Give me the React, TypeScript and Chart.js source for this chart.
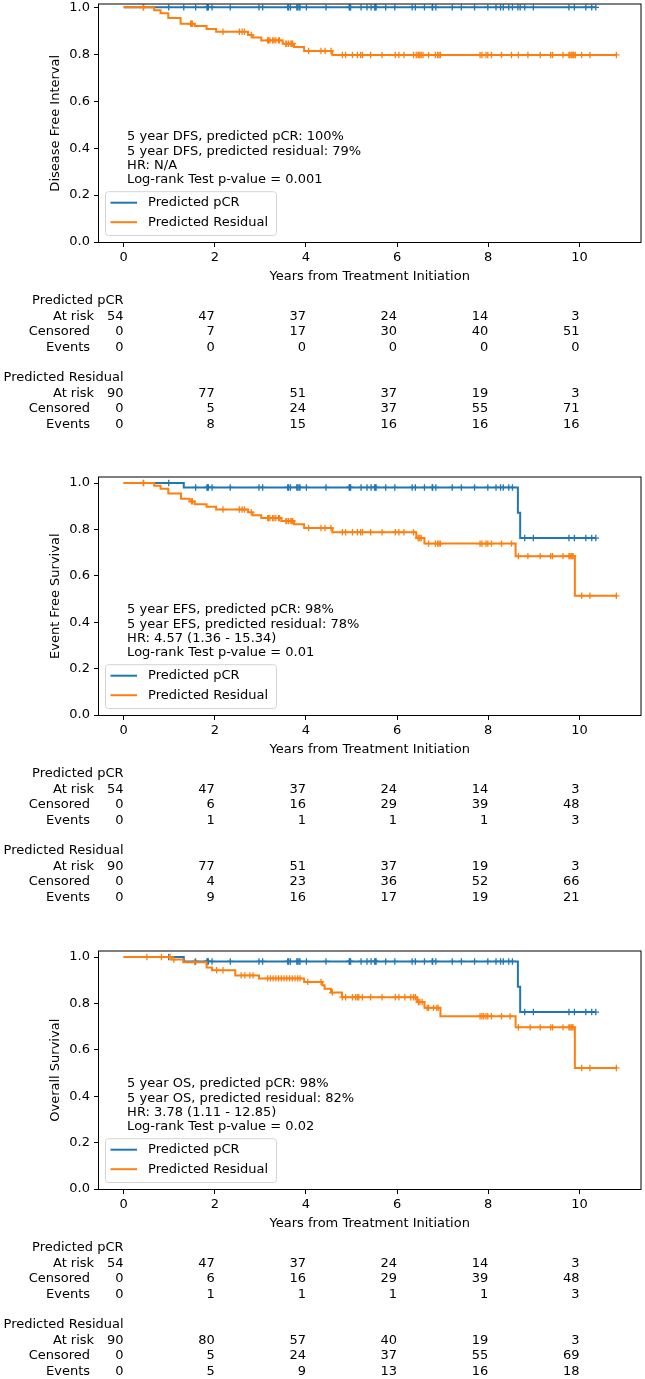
import React, { useEffect, useRef } from "react";
import { Chart, registerables } from "chart.js";

Chart.register(...registerables);

const FONT_FAMILY = "'DejaVu Sans', 'Noto Sans', sans-serif";
const FONT_SIZE = 13;
const BLUE = "#1f77b4";
const ORANGE = "#ff7f0e";

const xTickValues = [0, 2, 4, 6, 8, 10];
const yTickValues = [0, 0.2, 0.4, 0.6, 0.8, 1.0];
const xAxisTitle = "Years from Treatment Initiation";
const groupNames = ["Predicted pCR", "Predicted Residual"];
const rowLabels = ["At risk", "Censored", "Events"];

// ---------- Panel 1: Disease Free Interval ----------
const dfsPcrEventTimes: number[] = [];
const dfsPcrEventSurv: number[] = [];
const dfsPcrCensor = [0.99, 1.32, 1.58, 1.83, 1.84, 1.86, 1.94, 2.34, 2.97, 3.05, 3.6, 3.62, 3.66, 3.8, 3.82, 3.85, 3.87, 4.01, 4.44, 4.95, 4.96, 4.98, 5.21, 5.34, 5.43, 5.51, 5.52, 5.54, 5.75, 5.95, 6.33, 6.4, 6.6, 6.77, 6.78, 6.85, 7.21, 7.41, 7.7, 7.99, 8.17, 8.27, 8.33, 8.45, 8.53, 8.65, 8.7, 8.8, 8.99, 9.77, 9.89, 10.14, 10.27, 10.36];
const dfsResEventTimes = [0.67, 0.81, 0.98, 1.25, 1.56, 1.82, 2.03, 2.73, 2.83, 3.02, 3.49, 3.74, 3.96, 4.58];
const dfsResEventSurv = [0.988, 0.975, 0.955, 0.93, 0.92, 0.908, 0.896, 0.882, 0.871, 0.859, 0.845, 0.831, 0.814, 0.797];
const dfsResCensor = [0.43, 0.44, 1.47, 1.49, 1.51, 2.18, 2.54, 2.6, 2.65, 2.8, 3.16, 3.18, 3.21, 3.27, 3.3, 3.34, 3.4, 3.42, 3.56, 3.58, 3.62, 3.67, 3.69, 3.71, 4.06, 4.33, 4.42, 4.55, 4.8, 4.87, 5.02, 5.13, 5.2, 5.24, 5.42, 5.67, 5.96, 6.04, 6.15, 6.36, 6.42, 6.46, 6.48, 6.5, 6.53, 6.57, 6.69, 6.84, 6.89, 6.92, 6.95, 7.82, 7.86, 7.95, 7.99, 8.07, 8.29, 8.51, 8.66, 8.87, 9.14, 9.37, 9.41, 9.64, 9.77, 9.79, 9.82, 9.84, 9.86, 9.88, 9.91, 10.05, 10.23, 10.81];
const dfsPcrAtRisk = [54, 47, 37, 24, 14, 3];
const dfsPcrCensored = [0, 7, 17, 30, 40, 51];
const dfsPcrEvents = [0, 0, 0, 0, 0, 0];
const dfsResAtRisk = [90, 77, 51, 37, 19, 3];
const dfsResCensored = [0, 5, 24, 37, 55, 71];
const dfsResEvents = [0, 8, 15, 16, 16, 16];
const dfsNotes = ["5 year DFS, predicted pCR: 100%", "5 year DFS, predicted residual: 79%", "HR: N/A", "Log-rank Test p-value = 0.001"];

// ---------- Panel 2: Event Free Survival ----------
const efsPcrEventTimes = [1.32, 8.65, 8.7];
const efsPcrEventSurv = [0.981, 0.872, 0.763];
const efsPcrCensor = [0.99, 1.58, 1.83, 1.84, 1.86, 1.94, 2.34, 2.97, 3.05, 3.6, 3.62, 3.66, 3.8, 3.82, 3.85, 3.87, 4.01, 4.44, 4.95, 4.96, 4.98, 5.21, 5.34, 5.43, 5.51, 5.52, 5.54, 5.75, 5.95, 6.33, 6.4, 6.6, 6.77, 6.78, 6.85, 7.21, 7.41, 7.7, 7.99, 8.17, 8.27, 8.33, 8.45, 8.53, 8.8, 8.99, 9.77, 9.89, 10.14, 10.27, 10.36];
const efsResEventTimes = [0.67, 0.81, 0.98, 1.26, 1.45, 1.56, 1.82, 2.03, 2.73, 2.83, 3.02, 3.46, 3.74, 3.96, 4.58, 6.42, 6.6, 8.6, 9.9];
const efsResEventSurv = [0.988, 0.975, 0.955, 0.932, 0.921, 0.909, 0.898, 0.886, 0.874, 0.861, 0.849, 0.836, 0.822, 0.806, 0.788, 0.763, 0.739, 0.685, 0.514];
const efsResCensor = [0.43, 0.44, 1.49, 1.51, 2.18, 2.54, 2.6, 2.65, 2.8, 3.16, 3.18, 3.21, 3.27, 3.3, 3.34, 3.4, 3.42, 3.56, 3.58, 3.62, 3.67, 3.69, 3.71, 4.06, 4.33, 4.42, 4.55, 4.8, 4.87, 5.02, 5.13, 5.2, 5.24, 5.42, 5.67, 5.96, 6.04, 6.15, 6.36, 6.46, 6.48, 6.5, 6.53, 6.69, 6.84, 6.89, 6.92, 6.95, 7.82, 7.86, 7.95, 7.99, 8.07, 8.29, 8.51, 8.66, 8.87, 9.14, 9.37, 9.41, 9.64, 9.77, 9.79, 9.82, 9.84, 9.86, 10.05, 10.23, 10.81];
const efsPcrAtRisk = [54, 47, 37, 24, 14, 3];
const efsPcrCensored = [0, 6, 16, 29, 39, 48];
const efsPcrEvents = [0, 1, 1, 1, 1, 3];
const efsResAtRisk = [90, 77, 51, 37, 19, 3];
const efsResCensored = [0, 4, 23, 36, 52, 66];
const efsResEvents = [0, 9, 16, 17, 19, 21];
const efsNotes = ["5 year EFS, predicted pCR: 98%", "5 year EFS, predicted residual: 78%", "HR: 4.57 (1.36 - 15.34)", "Log-rank Test p-value = 0.01"];

// ---------- Panel 3: Overall Survival ----------
const osPcrEventTimes = [1.32, 8.65, 8.7];
const osPcrEventSurv = [0.981, 0.872, 0.763];
const osPcrCensor = [0.99, 1.58, 1.83, 1.84, 1.86, 1.94, 2.34, 2.97, 3.05, 3.6, 3.62, 3.66, 3.8, 3.82, 3.85, 3.87, 4.01, 4.44, 4.95, 4.96, 4.98, 5.21, 5.34, 5.43, 5.51, 5.52, 5.54, 5.75, 5.95, 6.33, 6.4, 6.6, 6.77, 6.78, 6.85, 7.21, 7.41, 7.7, 7.99, 8.17, 8.27, 8.33, 8.45, 8.53, 8.8, 8.99, 9.77, 9.89, 10.14, 10.27, 10.36];
const osResEventTimes = [1.05, 1.31, 1.82, 1.94, 2.45, 2.97, 3.96, 4.36, 4.41, 4.55, 4.79, 6.44, 6.6, 6.95, 8.6, 9.9];
const osResEventSurv = [0.989, 0.978, 0.955, 0.943, 0.921, 0.908, 0.893, 0.878, 0.863, 0.847, 0.827, 0.806, 0.781, 0.745, 0.697, 0.522];
const osResCensor = [0.51, 0.83, 1.02, 1.1, 1.56, 2.04, 2.18, 2.58, 2.66, 2.77, 2.84, 3.16, 3.22, 3.28, 3.34, 3.4, 3.46, 3.52, 3.58, 3.64, 3.7, 3.76, 3.82, 3.87, 4.04, 4.33, 4.58, 4.8, 4.87, 5.02, 5.09, 5.13, 5.16, 5.24, 5.42, 5.67, 5.96, 6.04, 6.17, 6.3, 6.36, 6.4, 6.47, 6.5, 6.55, 6.66, 6.69, 6.8, 6.87, 6.9, 7.82, 7.86, 7.9, 7.95, 7.99, 8.07, 8.29, 8.48, 8.66, 8.92, 9.14, 9.37, 9.41, 9.64, 9.77, 9.79, 9.82, 9.84, 9.86, 10.05, 10.23, 10.81];
const osPcrAtRisk = [54, 47, 37, 24, 14, 3];
const osPcrCensored = [0, 6, 16, 29, 39, 48];
const osPcrEvents = [0, 1, 1, 1, 1, 3];
const osResAtRisk = [90, 80, 57, 40, 19, 3];
const osResCensored = [0, 5, 24, 37, 55, 69];
const osResEvents = [0, 5, 9, 13, 16, 18];
const osNotes = ["5 year OS, predicted pCR: 98%", "5 year OS, predicted residual: 82%", "HR: 3.78 (1.11 - 12.85)", "Log-rank Test p-value = 0.02"];

// ---------- layout constants ----------
const CANVAS_W = 645;
const PLOT_LEFT = 99;
const PLOT_TOP = 3;
const PLOT_BOTTOM = 242;
const PLOT_RIGHT_PAD = 2;
const X_AXIS_H = 42.5;
const X_MIN = -0.54;
const X_MAX = 11.34;

type Group = { times: number[]; surv: number[]; censor: number[] };
type PanelSpec = {
  top: number;
  height: number;
  yTitle: string;
  yMax: number;
  pcr: Group;
  res: Group;
  notes: string[];
  table: number[][][];
};

const panels: PanelSpec[] = [
  {
    top: 0, height: 473, yTitle: "Disease Free Interval", yMax: 1.012,
    pcr: { times: dfsPcrEventTimes, surv: dfsPcrEventSurv, censor: dfsPcrCensor },
    res: { times: dfsResEventTimes, surv: dfsResEventSurv, censor: dfsResCensor },
    notes: dfsNotes,
    table: [[dfsPcrAtRisk, dfsPcrCensored, dfsPcrEvents], [dfsResAtRisk, dfsResCensored, dfsResEvents]],
  },
  {
    top: 473, height: 473, yTitle: "Event Free Survival", yMax: 1.024,
    pcr: { times: efsPcrEventTimes, surv: efsPcrEventSurv, censor: efsPcrCensor },
    res: { times: efsResEventTimes, surv: efsResEventSurv, censor: efsResCensor },
    notes: efsNotes,
    table: [[efsPcrAtRisk, efsPcrCensored, efsPcrEvents], [efsResAtRisk, efsResCensored, efsResEvents]],
  },
  {
    top: 947, height: 432, yTitle: "Overall Survival", yMax: 1.024,
    pcr: { times: osPcrEventTimes, surv: osPcrEventSurv, censor: osPcrCensor },
    res: { times: osResEventTimes, surv: osResEventSurv, censor: osResCensor },
    notes: osNotes,
    table: [[osPcrAtRisk, osPcrCensored, osPcrEvents], [osResAtRisk, osResCensored, osResEvents]],
  },
];

function survivalAt(times: number[], surv: number[], t: number): number {
  let s = 1;
  for (let i = 0; i < times.length; i++) if (times[i] <= t) s = surv[i];
  return s;
}

function stepPoints(g: Group) {
  const pts = [{ x: 0, y: 1 }];
  g.times.forEach((t, i) => pts.push({ x: t, y: g.surv[i] }));
  const end = Math.max(...g.censor, ...(g.times.length ? g.times : [0]));
  pts.push({ x: end, y: g.surv.length ? g.surv[g.surv.length - 1] : 1 });
  return pts;
}

function censorPoints(g: Group) {
  return g.censor.map((t) => ({ x: t, y: survivalAt(g.times, g.surv, t) }));
}

const font = (size = FONT_SIZE) => `${size}px ${FONT_FAMILY}`;

const kmDecor = {
  id: "kmDecor",
  afterDraw(chart: any, _args: any, opts: any) {
    const { ctx, chartArea: a, scales } = chart;
    const xs = scales.x;
    ctx.save();

    // axes frame
    ctx.strokeStyle = "#000";
    ctx.lineWidth = 1;
    ctx.strokeRect(a.left - 0.5, a.top - 0.5, a.right - a.left + 1, a.bottom - a.top + 1);

    ctx.fillStyle = "#000";
    ctx.font = font();
    ctx.textBaseline = "middle";

    // annotation text
    const noteX = xs.getPixelForValue(0) + 3.5;
    const noteOffsets = [105, 90.8, 76.6, 62.4];
    ctx.textAlign = "left";
    (opts.notes as string[]).forEach((t, i) => ctx.fillText(t, noteX, a.bottom - noteOffsets[i]));

    // legend
    const boxL = a.left + 6.5;
    const boxT = a.bottom - 50.3;
    const boxW = 171;
    const boxH = 43.8;
    const r = 3;
    ctx.beginPath();
    ctx.moveTo(boxL + r, boxT);
    ctx.lineTo(boxL + boxW - r, boxT);
    ctx.arcTo(boxL + boxW, boxT, boxL + boxW, boxT + r, r);
    ctx.lineTo(boxL + boxW, boxT + boxH - r);
    ctx.arcTo(boxL + boxW, boxT + boxH, boxL + boxW - r, boxT + boxH, r);
    ctx.lineTo(boxL + r, boxT + boxH);
    ctx.arcTo(boxL, boxT + boxH, boxL, boxT + boxH - r, r);
    ctx.lineTo(boxL, boxT + r);
    ctx.arcTo(boxL, boxT, boxL + r, boxT, r);
    ctx.closePath();
    ctx.fillStyle = "rgba(255,255,255,0.85)";
    ctx.fill();
    ctx.strokeStyle = "#d4d4d4";
    ctx.lineWidth = 1;
    ctx.stroke();

    const entries: [string, string, number][] = [
      [BLUE, groupNames[0], a.bottom - 39.3],
      [ORANGE, groupNames[1], a.bottom - 19.8],
    ];
    entries.forEach(([c, label, y]) => {
      ctx.strokeStyle = c;
      ctx.lineWidth = 2;
      ctx.beginPath();
      ctx.moveTo(boxL + 5, y);
      ctx.lineTo(boxL + 31.5, y);
      ctx.stroke();
      ctx.fillStyle = "#000";
      ctx.textAlign = "left";
      ctx.fillText(label, boxL + 42.6, y);
    });

    // number-at-risk table
    const colX = xTickValues.map((v) => xs.getPixelForValue(v));
    const tableTop = a.bottom + 59;
    const lh = 15.4;
    const labelOffsets = [29.5, 33.5, 33.5];
    ctx.fillStyle = "#000";
    ctx.textAlign = "right";
    (opts.table as number[][][]).forEach((rows, g) => {
      const base = tableTop + g * 5 * lh;
      ctx.fillText(groupNames[g], colX[0], base);
      rows.forEach((vals, ri) => {
        const y = base + (ri + 1) * lh;
        ctx.fillText(rowLabels[ri], colX[0] - labelOffsets[ri], y);
        vals.forEach((v, ci) => ctx.fillText(String(v), colX[ci], y));
      });
    });

    ctx.restore();
  },
};

function KMPanel({ spec }: { spec: PanelSpec }) {
  const ref = useRef<HTMLCanvasElement | null>(null);

  useEffect(() => {
    if (!ref.current) return;
    const tickFont = { family: FONT_FAMILY, size: FONT_SIZE, lineHeight: 1.2 };
    const gridOpts = {
      display: true,
      drawOnChartArea: false,
      drawTicks: true,
      tickLength: 5,
      color: "#000",
      lineWidth: 1,
    };
    const chart = new Chart(ref.current, {
      type: "line",
      data: {
        datasets: [
          {
            label: "res-censor",
            data: censorPoints(spec.res),
            showLine: false,
            pointStyle: "cross",
            pointRadius: 3.2,
            pointHoverRadius: 3.2,
            pointBorderWidth: 1.3,
            pointBorderColor: ORANGE,
            borderColor: ORANGE,
            backgroundColor: ORANGE,
          },
          {
            label: groupNames[1],
            data: stepPoints(spec.res),
            stepped: true,
            borderColor: ORANGE,
            borderWidth: 2,
            pointRadius: 0,
            fill: false,
          },
          {
            label: "pcr-censor",
            data: censorPoints(spec.pcr),
            showLine: false,
            pointStyle: "cross",
            pointRadius: 3.2,
            pointHoverRadius: 3.2,
            pointBorderWidth: 1.3,
            pointBorderColor: BLUE,
            borderColor: BLUE,
            backgroundColor: BLUE,
          },
          {
            label: groupNames[0],
            data: stepPoints(spec.pcr),
            stepped: true,
            borderColor: BLUE,
            borderWidth: 2,
            pointRadius: 0,
            fill: false,
          },
        ],
      } as any,
      options: {
        responsive: false,
        animation: false,
        devicePixelRatio: 1,
        events: [],
        layout: {
          padding: {
            top: PLOT_TOP,
            right: PLOT_RIGHT_PAD,
            left: 0,
            bottom: spec.height - PLOT_BOTTOM - X_AXIS_H,
          },
        },
        plugins: {
          legend: { display: false },
          tooltip: { enabled: false },
          kmDecor: { notes: spec.notes, table: spec.table },
        } as any,
        scales: {
          x: {
            type: "linear",
            min: X_MIN,
            max: X_MAX,
            afterBuildTicks: (s: any) => {
              s.ticks = xTickValues.map((v) => ({ value: v }));
            },
            afterFit: (s: any) => {
              s.height = X_AXIS_H;
              s.paddingLeft = 0;
              s.paddingRight = 0;
              s.paddingTop = 0;
              s.paddingBottom = 0;
            },
            grid: gridOpts,
            border: { display: false },
            ticks: {
              color: "#000",
              font: tickFont,
              padding: 3,
              maxRotation: 0,
              autoSkip: false,
              callback: (v: any) => String(v),
            },
            title: {
              display: true,
              text: xAxisTitle,
              color: "#000",
              font: tickFont,
              padding: { top: 0, bottom: 0 },
            },
          },
          y: {
            type: "linear",
            min: 0,
            max: spec.yMax,
            afterBuildTicks: (s: any) => {
              s.ticks = yTickValues.map((v) => ({ value: v }));
            },
            afterFit: (s: any) => {
              s.width = PLOT_LEFT;
              s.paddingLeft = 0;
              s.paddingRight = 0;
              s.paddingTop = 0;
              s.paddingBottom = 0;
            },
            grid: gridOpts,
            border: { display: false },
            ticks: {
              color: "#000",
              font: tickFont,
              padding: 4,
              autoSkip: false,
              callback: (v: any) => Number(v).toFixed(1),
            },
            title: {
              display: true,
              text: spec.yTitle,
              color: "#000",
              font: tickFont,
              padding: { top: 48, bottom: 0 },
            },
          },
        },
      } as any,
      plugins: [kmDecor as any],
    });
    return () => chart.destroy();
  }, [spec]);

  return (
    <canvas
      ref={ref}
      width={CANVAS_W}
      height={spec.height}
      style={{ position: "absolute", left: 0, top: spec.top, width: CANVAS_W, height: spec.height }}
    />
  );
}

export default function App() {
  return (
    <div
      style={{
        position: "absolute",
        left: 0,
        top: 0,
        width: CANVAS_W,
        height: 1379,
        background: "#fff",
        overflow: "hidden",
      }}
    >
      {panels.map((p, i) => (
        <KMPanel key={i} spec={p} />
      ))}
    </div>
  );
}
